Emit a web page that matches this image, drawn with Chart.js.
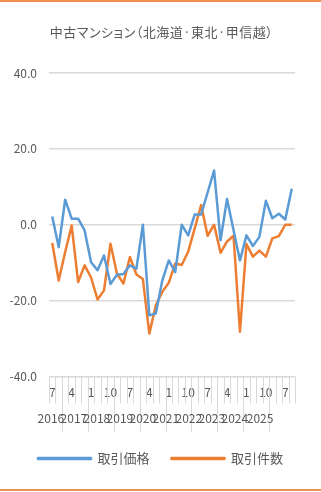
<!DOCTYPE html>
<html lang="ja">
<head>
<meta charset="utf-8">
<script src="https://cdn.jsdelivr.net/npm/chart.js@4.4.1/dist/chart.umd.min.js"></script>
<style>
  html, body { margin: 0; padding: 0; background: #fff; }
  #wrap { position: relative; width: 321px; height: 492px; overflow: hidden; }
  #wrap:before, #wrap:after { content: ''; position: absolute; left: 0; right: 0; height: 2px; background: #f0914f; }
  #wrap:before { top: 0; }
  #wrap:after { top: 489px; }
  canvas { position: absolute; left: 0; top: 0; }
  #title {
    position: absolute; left: 1px; top: 24px; width: 321px;
    text-align: center; font: 13px/16px "Noto Sans CJK JP", sans-serif;
    font-feature-settings: "palt"; color: #595959; letter-spacing: 0.5px;
  }
</style>
</head>
<body>
<div id="wrap">
  <canvas id="chart" width="321" height="492"></canvas>
  <div id="title">中古マンション（北海道·東北·甲信越）</div>
</div>
<script>
// quarters, year/month of first month
const periods = ['2016/7','2016/10',
  '2017/1','2017/4','2017/7','2017/10',
  '2018/1','2018/4','2018/7','2018/10',
  '2019/1','2019/4','2019/7','2019/10',
  '2020/1','2020/4','2020/7','2020/10',
  '2021/1','2021/4','2021/7','2021/10',
  '2022/1','2022/4','2022/7','2022/10',
  '2023/1','2023/4','2023/7','2023/10',
  '2024/1','2024/4','2024/7','2024/10',
  '2025/1','2025/4','2025/7','2025/10'];
const years = ['2016','2017','2018','2019','2020','2021','2022','2023','2024','2025'];
const yTicks = [-40, -20, 0, 20, 40];

// 取引価格 / 取引件数 (前年同期比, %)
const priceIndex = [2.2, -5.9, 6.6, 1.6, 1.6, -1.5, -9.9, -12.0, -8.1, -15.6, -13.2, -13.0, -10.7, -11.6,
  0.0, -23.9, -23.4, -14.7, -9.4, -12.5, 0.0, -2.8, 2.7, 2.7, 8.5, 14.3, -4.1, 6.8, -1.4, -9.4,
  -2.8, -5.6, -3.2, 6.3, 1.7, 2.9, 1.4, 9.5];
const countIndex = [-4.8, -14.7, -7.2, -0.2, -15.1, -10.7, -13.9, -19.7, -17.3, -5.0, -12.9, -15.5, -8.5, -13.1,
  -14.3, -28.7, -21.2, -17.7, -15.3, -10.2, -10.6, -7.1, -1.0, 5.2, -2.9, 0.0, -7.4, -4.4, -2.9, -28.2,
  -5.1, -8.4, -6.8, -8.4, -3.6, -3.0, 0.0, 0.0];

const BLUE = '#5b9bd5';
const ORANGE = '#ed7d31';
const GRID = '#d9d9d9';
const TEXT = '#595959';
const FONT = '"Noto Sans CJK JP", "Noto Sans", sans-serif';

Chart.defaults.font.family = FONT;
Chart.defaults.color = TEXT;

// category axis frame: short ticks between quarters, long ones between years, year names
const yearRow = {
  id: 'yearRow',
  afterDraw(chart) {
    const x = chart.scales.x;
    const ctx = chart.ctx;
    const top = chart.chartArea.bottom;
    ctx.save();
    ctx.strokeStyle = GRID;
    ctx.lineWidth = 1;
    for (let i = 0; i <= periods.length; i++) {
      const px = Math.round(x.getPixelForValue(i - 0.5)) + 0.5;
      const newYear = i > 0 && i < periods.length &&
        periods[i].split('/')[0] !== periods[i - 1].split('/')[0];
      ctx.beginPath();
      ctx.moveTo(px, top);
      ctx.lineTo(px, top + (newYear ? 55 : 27));
      ctx.stroke();
    }
    ctx.fillStyle = TEXT;
    ctx.font = '12px ' + FONT;
    ctx.textAlign = 'center';
    ctx.textBaseline = 'middle';
    years.forEach((y, k) => {
      // labels crowd together, packed tighter than the year groups
      const pos = k < years.length - 1 ? -0.2 + k * 3.55 : 32.1;
      ctx.fillText(y, x.getPixelForValue(pos), top + 42);
    });
    ctx.restore();
  }
};

new Chart(document.getElementById('chart'), {
  type: 'line',
  data: {
    labels: periods,
    datasets: [{
      label: '取引価格',
      data: priceIndex,
      borderColor: BLUE,
      backgroundColor: BLUE,
      borderWidth: 2.5,
      pointRadius: 0,
      borderJoinStyle: 'round'
    }, {
      label: '取引件数',
      data: countIndex,
      borderColor: ORANGE,
      backgroundColor: ORANGE,
      borderWidth: 2.5,
      pointRadius: 0,
      borderJoinStyle: 'round'
    }]
  },
  options: {
    responsive: false,
    animation: false,
    layout: { padding: { top: 73, bottom: 17, left: 0, right: 0 } },
    plugins: {
      legend: {
        position: 'bottom',
        labels: {
          boxWidth: 53,
          boxHeight: 1,
          padding: 22,
          color: TEXT,
          font: { size: 13 }
        }
      },
      tooltip: { enabled: false }
    },
    scales: {
      x: {
        offset: true,
        grid: { display: false, offset: true, tickLength: 27 },
        border: { display: false },
        ticks: {
          autoSkip: false,
          maxRotation: 0,
          padding: -18,
          font: { size: 12 },
          callback: (v, i) => i % 3 === 0 ? periods[i].split('/')[1] : ''
        },
        afterFit: s => { s.height = 53.5; }
      },
      y: {
        min: -40,
        max: 40,
        afterBuildTicks: s => { s.ticks = yTicks.map(v => ({ value: v })); },
        grid: { color: GRID, lineWidth: 1.5, drawTicks: false },
        border: { display: false },
        ticks: {
          padding: 12,
          font: { size: 12 },
          callback: v => v.toFixed(1)
        },
        afterFit: s => { s.width = 49; }
      },
      spacer: {
        position: 'right',
        grid: { display: false },
        border: { display: false },
        ticks: { display: false },
        afterFit: s => { s.width = 26; }
      }
    }
  },
  plugins: [yearRow]
});
</script>
</body>
</html>
